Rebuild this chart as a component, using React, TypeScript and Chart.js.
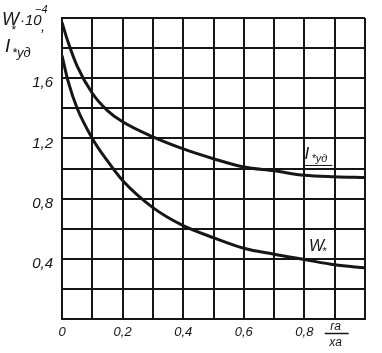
import { useEffect, useRef } from 'react';
import { Chart, registerables } from 'chart.js';

Chart.register(...registerables);

// ---- data ----
const xValues = [0, 0.02, 0.05, 0.1, 0.15, 0.2, 0.3, 0.4, 0.5, 0.6, 0.7, 0.8, 0.9, 1.0];
const iUdValues = [1.97, 1.84, 1.68, 1.5, 1.385, 1.31, 1.21, 1.13, 1.065, 1.01, 0.985, 0.955, 0.945, 0.94];
const wValues = [1.75, 1.58, 1.4, 1.2, 1.05, 0.92, 0.74, 0.62, 0.54, 0.47, 0.43, 0.395, 0.36, 0.34];

const xTickValues = [0, 0.2, 0.4, 0.6, 0.8];
const xTickLabels = ['0', '0,2', '0,4', '0,6', '0,8'];
const yTickValues = [0.4, 0.8, 1.2, 1.6];
const yTickLabels = ['0,4', '0,8', '1,2', '1,6'];

const INK = '#161616';
const FONT = '"Liberation Sans", "DejaVu Sans", sans-serif';

function labelFor(value: number, values: number[], labels: string[]) {
  const i = values.findIndex((v) => Math.abs(v - value) < 1e-6);
  return i >= 0 ? labels[i] : '';
}

const annotationsPlugin = {
  id: 'annotations',
  afterDraw(chart: any) {
    const ctx = chart.ctx as CanvasRenderingContext2D;
    const xs = chart.scales.x;
    const ys = chart.scales.y;
    ctx.save();
    ctx.fillStyle = INK;
    ctx.strokeStyle = INK;
    ctx.textBaseline = 'alphabetic';
    ctx.textAlign = 'left';
    const f = (s: number) => `italic ${s}px ${FONT}`;

    // axis title (top-left)
    ctx.font = f(18);
    ctx.fillText('W', 2, 25);
    ctx.font = f(12);
    ctx.fillText('*', 11, 34);
    ctx.font = f(15);
    ctx.fillText('·10', 20, 25);
    ctx.font = f(11);
    ctx.fillText('−4', 35, 13);
    ctx.font = f(15);
    ctx.fillText(',', 41, 31);
    ctx.font = f(19);
    ctx.fillText('I', 5, 52);
    ctx.font = f(13);
    ctx.fillText('*уд', 12, 57);

    // x-axis fraction label r_a / x_a at x = 0.9
    const fx = xs.getPixelForValue(0.9);
    ctx.textAlign = 'center';
    ctx.font = f(12);
    ctx.fillText('rа', fx + 1, 330);
    ctx.lineWidth = 1.5;
    ctx.beginPath();
    ctx.moveTo(fx - 10, 333.5);
    ctx.lineTo(fx + 14, 333.5);
    ctx.stroke();
    ctx.fillText('xа', fx + 1, 346);

    // curve labels
    const ix = xs.getPixelForValue(0.8);
    const iy = ys.getPixelForValue(1.06);
    ctx.textAlign = 'left';
    ctx.font = f(17);
    ctx.fillText('I', ix, iy);
    ctx.font = f(11);
    ctx.fillText('*уд', ix + 7, iy + 3);
    ctx.lineWidth = 1;
    ctx.beginPath();
    ctx.moveTo(ix - 1, iy + 6);
    ctx.lineTo(ix + 28, iy + 6);
    ctx.stroke();

    const wx = xs.getPixelForValue(0.815);
    const wy = ys.getPixelForValue(0.45);
    ctx.font = f(16);
    ctx.fillText('W', wx, wy);
    ctx.font = f(11);
    ctx.fillText('*', wx + 13, wy + 4);
    ctx.restore();
  },
};

export default function App() {
  const ref = useRef<HTMLCanvasElement>(null);
  useEffect(() => {
    document.body.style.margin = '0';
    const canvas = ref.current!;
    const chart = new Chart(canvas, {
      type: 'line',
      data: {
        datasets: [
          {
            label: 'I*уд',
            data: xValues.map((x, i) => ({ x, y: iUdValues[i] })),
            borderColor: INK,
            borderWidth: 3,
            pointRadius: 0,
            cubicInterpolationMode: 'monotone',
            fill: false,
          },
          {
            label: 'W*',
            data: xValues.map((x, i) => ({ x, y: wValues[i] })),
            borderColor: INK,
            borderWidth: 3,
            pointRadius: 0,
            cubicInterpolationMode: 'monotone',
            fill: false,
          },
        ],
      },
      options: {
        animation: false,
        responsive: false,
        devicePixelRatio: 1,
        layout: { padding: { top: 10, right: 17, left: 0, bottom: 0 } },
        plugins: { legend: { display: false }, tooltip: { enabled: false } },
        scales: {
          x: {
            type: 'linear',
            min: 0,
            max: 1,
            afterFit: (s: any) => {
              s.height = 34;
            },
            afterBuildTicks: (s: any) => {
              s.ticks = [0, 0.1, 0.2, 0.3, 0.4, 0.5, 0.6, 0.7, 0.8, 0.9, 1].map((v) => ({ value: v }));
            },
            ticks: {
              autoSkip: false,
              maxRotation: 0,
              padding: 6,
              color: INK,
              font: { family: FONT, size: 13, style: 'italic' },
              callback: (v: any) => labelFor(Number(v), xTickValues, xTickLabels),
            },
            grid: { color: INK, lineWidth: 2, drawTicks: false },
            border: { color: INK, width: 2 },
          },
          y: {
            type: 'linear',
            min: 0,
            max: 2,
            afterFit: (s: any) => {
              s.width = 62;
            },
            afterBuildTicks: (s: any) => {
              s.ticks = [0, 0.2, 0.4, 0.6, 0.8, 1, 1.2, 1.4, 1.6, 1.8, 2].map((v) => ({ value: v }));
            },
            ticks: {
              autoSkip: false,
              padding: 9,
              labelOffset: 5,
              color: INK,
              font: { family: FONT, size: 15, style: 'italic' },
              callback: (v: any) => labelFor(Number(v), yTickValues, yTickLabels),
            },
            grid: { color: INK, lineWidth: 2, drawTicks: false },
            border: { color: INK, width: 2 },
          },
        },
      },
      plugins: [annotationsPlugin],
    } as any);
    return () => chart.destroy();
  }, []);
  return (
    <div style={{ position: 'fixed', left: 0, top: 0, width: 382, height: 353, background: '#fff' }}>
      <canvas ref={ref} width={382} height={353} style={{ width: 382, height: 353 }} />
    </div>
  );
}
